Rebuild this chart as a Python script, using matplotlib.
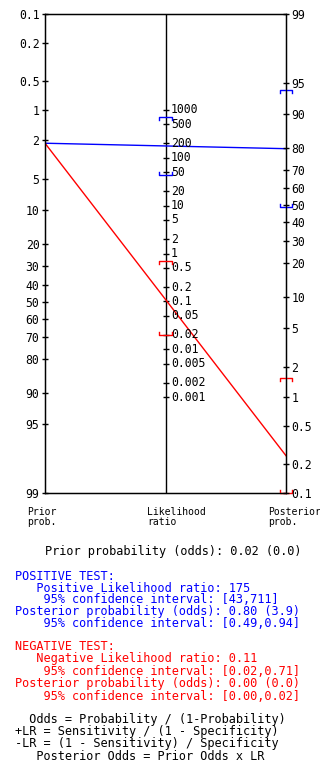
import numpy as np
import matplotlib
matplotlib.use('Agg')
import matplotlib.pyplot as plt

# data
prior = 0.0218
lr_pos = 175
lr_pos_ci = [43, 711]
lr_neg = 0.11
lr_neg_ci = [0.02, 0.71]

prob_ticks = [0.1, 0.2, 0.5, 1, 2, 5, 10, 20, 30, 40, 50, 60, 70, 80, 90, 95, 99]
lr_ticks = [1000, 500, 200, 100, 50, 20, 10, 5, 2, 1, 0.5, 0.2, 0.1,
            0.05, 0.02, 0.01, 0.005, 0.002, 0.001]

MONO = 'DejaVu Sans Mono'
BLUE = '#0000ff'
RED = '#ff0000'


def logit(p):
    p = np.asarray(p, dtype=float)
    return np.log(p / (1 - p))


P_LO, P_HI = 0.001, 0.99
SPAN = logit(P_HI) - logit(P_LO)


def u_left(p):
    return logit(p) - logit(P_LO)


def u_right(p):
    return np.clip(logit(P_HI) - logit(p), 0, SPAN)


def u_mid(lr):
    return (SPAN - np.log(np.asarray(lr, dtype=float))) / 2


def post(odds, lr):
    o = odds * np.asarray(lr, dtype=float)
    return o / (1 + o)


prior_odds = prior / (1 - prior)
post_pos = post(prior_odds, lr_pos)
post_pos_ci = post(prior_odds, lr_pos_ci)
post_neg = post(prior_odds, lr_neg)
post_neg_ci = post(prior_odds, lr_neg_ci)

fig = plt.figure(figsize=(3.2, 7.64), dpi=100)
fig.patch.set_facecolor('white')
ax = fig.add_axes([45 / 320, 1 - 493 / 764, 241 / 320, 479 / 764])
ax.set_xlim(0, 1)
ax.set_ylim(SPAN, 0)
ax.set_xticks([])
for s in ax.spines.values():
    s.set_linewidth(1)

# left axis: prior probability
ax.set_yticks(u_left(np.array(prob_ticks) / 100))
ax.set_yticklabels([f"{v:g}" for v in prob_ticks], family=MONO)
ax.tick_params(axis='y', direction='inout', length=4, width=1, pad=2, labelsize=8.3)

# right axis: posterior probability
ax2 = ax.twinx()
ax2.set_ylim(SPAN, 0)
ax2.set_yticks(u_right(np.array(prob_ticks) / 100))
ax2.set_yticklabels([f"{v:g}" for v in prob_ticks], family=MONO)
ax2.tick_params(axis='y', direction='inout', length=4, width=1, pad=2, labelsize=8.3)

# middle axis: likelihood ratio
ax.axvline(0.5, color='k', lw=1)
ax.plot(np.full(len(lr_ticks), 0.5), u_mid(lr_ticks), ls='none', marker='_',
        ms=4, mew=1, color='k')
for v in lr_ticks:
    ax.annotate(f"{v:g}", (0.5, u_mid(v)), xytext=(4, 0), textcoords='offset points',
                va='center', ha='left', family=MONO, fontsize=8.3)

# lines prior -> posterior
ax.plot([0, 1], [u_left(prior), u_right(post_pos)], color=BLUE, lw=1)
ax.plot([0, 1], [u_left(prior), u_right(post_neg)], color=RED, lw=1)


def bracket(x, u, upper, color):
    hw, th = 0.025, 0.075
    d = th if upper else -th
    ax.plot([x - hw, x - hw, x + hw, x + hw], [u + d, u, u, u + d],
            color=color, lw=1, clip_on=False, zorder=5)


bracket(0.5, u_mid(lr_pos_ci[0]), False, BLUE)
bracket(0.5, u_mid(lr_pos_ci[1]), True, BLUE)
bracket(1, u_right(post_pos_ci[0]), False, BLUE)
bracket(1, u_right(post_pos_ci[1]), True, BLUE)
bracket(0.5, u_mid(lr_neg_ci[0]), False, RED)
bracket(0.5, u_mid(lr_neg_ci[1]), True, RED)
bracket(1, u_right(post_neg_ci[0]), False, RED)
bracket(1, u_right(post_neg_ci[1]), True, RED)


def block(x, y, lines, color='k', ls=0.96):
    fig.text(x / 320, 1 - y / 764, "\n".join(lines), color=color, family=MONO,
             fontsize=8.6, ha='left', va='top', linespacing=ls)


# axis captions
for x, s in [(27, "Prior\nprob."), (147, "Likelihood\nratio"), (268, "Posterior\nprob.")]:
    fig.text(x / 320, 1 - 507 / 764, s, family=MONO, fontsize=7, ha='left', va='top',
             linespacing=0.95)

block(45, 545, [f"Prior probability (odds): {prior:.2f} ({prior_odds:.1f})"])

block(15, 570, [
    "POSITIVE TEST:",
    f"   Positive Likelihood ratio: {lr_pos:g}",
    f"    95% confidence interval: [{lr_pos_ci[0]:g},{lr_pos_ci[1]:g}]",
    f"Posterior probability (odds): {post_pos:.2f} ({prior_odds * lr_pos:.1f})",
    f"    95% confidence interval: [{post_pos_ci[0]:.2f},{post_pos_ci[1]:.2f}]",
], BLUE, 0.87)

block(15, 640, [
    "NEGATIVE TEST:",
    f"   Negative Likelihood ratio: {lr_neg:g}",
    f"    95% confidence interval: [{lr_neg_ci[0]:.2f},{lr_neg_ci[1]:.2f}]",
    f"Posterior probability (odds): {post_neg:.2f} ({prior_odds * lr_neg:.1f})",
    f"    95% confidence interval: [{post_neg_ci[0]:.2f},{post_neg_ci[1]:.2f}]",
], RED, 0.94)

block(15, 713, [
    "  Odds = Probability / (1-Probability)",
    "+LR = Sensitivity / (1 - Specificity)",
    "-LR = (1 - Sensitivity) / Specificity",
    "   Posterior Odds = Prior Odds x LR",
], 'k', 0.92)

fig.savefig('out.png', dpi=100, facecolor='white')
